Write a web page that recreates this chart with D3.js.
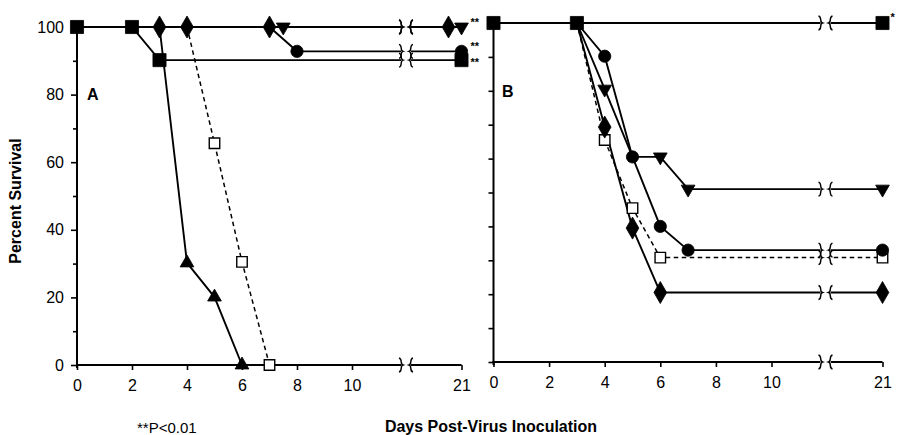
<!DOCTYPE html>
<html><head><meta charset="utf-8">
<script src="https://cdn.jsdelivr.net/npm/d3@7"></script>
<style>
body{margin:0;background:#fff}
svg{display:block}
text{font-family:"Liberation Sans",Arial,Helvetica,sans-serif;fill:#000}
</style>
</head><body>
<svg id="chart" width="898" height="435"></svg>
<script>
// ---------- DATA ----------
const xTickValues = [0, 2, 4, 6, 8, 10, 21];
const yTickValues = [0, 10, 20, 30, 40, 50, 60, 70, 80, 90, 100];
const yLabelValues = [0, 20, 40, 60, 80, 100];

// Panel A  ([day, percent survival])
const aSquare   = [[0,100],[2,100],[3,90.2],[21,90.2]];
const aSquareMarks = [0,2,3,21];
const aDiamond  = [[0,100],[3,100],[4,100],[7,100],[21,100]];
const aDiamondMarks = [3,4,7,21];
const aTriUp    = [[3,100],[4,30.2],[5,20.1],[6,0]];
const aTriUpMarks = [4,5,6];
const aOpenSq   = [[4,100],[5,65.6],[6,30.5],[7,0]];
const aOpenSqMarks = [5,6,7];
const aTriDown  = [[7.5,100],[21,100]];
const aTriDownMarks = [7.5,21];
const aCircle   = [[7,100],[8,92.8],[21,92.8]];
const aCircleMarks = [8,21];
const aStars = [["**",100],["**",92.8],["**",90.2]];

// Panel B
const bSquare   = [[0,100],[3,100],[21,100]];
const bSquareMarks = [0,3,21];
const bCircle   = [[3,100],[4,90.2],[5,60.5],[6,40],[7,33],[21,33]];
const bCircleMarks = [4,5,6,7,21];
const bTriDown  = [[3,100],[4,80.5],[5,60.5],[6,60.5],[7,51],[21,51]];
const bTriDownMarks = [4,6,7,21];
const bDiamond  = [[3,100],[4,69.3],[5,39.5],[6,20.5],[21,20.5]];
const bDiamondMarks = [4,5,6,21];
const bOpenSq   = [[3,100],[4,65.5],[5,45.4],[6,30.8],[21,30.8]];
const bOpenSqMarks = [4,5,6,21];
const bStars = [["*",100]];

// ---------- STYLE / LAYOUT ----------
const svg = d3.select("#chart");
const FONT = 16;

const symStyle = {
  square:  {type: d3.symbolSquare,   size: 172, fill: "#000", rot: 0},
  circle:  {type: d3.symbolCircle,   size: 118, fill: "#000", rot: 0},
  diamond: {type: d3.symbolDiamond,  size: 140, fill: "#000", rot: 0},
  triUp:   {type: d3.symbolTriangle, size: 82,  fill: "#000", rot: 0},
  triDown: {type: d3.symbolTriangle, size: 82,  fill: "#000", rot: 180},
  openSq:  {type: d3.symbolSquare,   size: 110, fill: "#fff", rot: 0, dashed: true}
};
const drawOrder = ["openSq","triUp","triDown","circle","square","diamond"];

const panels = [
  {
    name: "A", xr: [77, 352, 461.5], yr: [365, 27], label: [87, 100],
    majorTick: 6, showYLabels: true, starDy: [-1, -1, 6], endShift: {diamond: -13},
    series: {
      square:  {pts: aSquare,  marks: aSquareMarks},
      diamond: {pts: aDiamond, marks: aDiamondMarks},
      triUp:   {pts: aTriUp,   marks: aTriUpMarks},
      openSq:  {pts: aOpenSq,  marks: aOpenSqMarks},
      triDown: {pts: aTriDown, marks: aTriDownMarks},
      circle:  {pts: aCircle,  marks: aCircleMarks}
    },
    stars: aStars, starDx: 9
  },
  {
    name: "B", xr: [493.5, 771.5, 882.5], yr: [362, 23], label: [502, 97],
    majorTick: 5, showYLabels: false, starDy: [-2], endShift: {},
    series: {
      square:  {pts: bSquare,  marks: bSquareMarks},
      circle:  {pts: bCircle,  marks: bCircleMarks},
      triDown: {pts: bTriDown, marks: bTriDownMarks},
      diamond: {pts: bDiamond, marks: bDiamondMarks},
      openSq:  {pts: bOpenSq,  marks: bOpenSqMarks}
    },
    stars: bStars, starDx: 8
  }
];

function bracePath(x, y, dir) {
  // dir = 1 -> "}" ; dir = -1 -> "{"
  const d = dir;
  return `M${x - d*2},${y-7} C${x + d*2},${y-6} ${x - d*1.5},${y-1} ${x + d*2},${y} ` +
         `C${x - d*1.5},${y+1} ${x + d*2},${y+6} ${x - d*2},${y+7}`;
}

panels.forEach(p => {
  const g = svg.append("g");
  const x = d3.scaleLinear().domain([0, 10, 21]).range(p.xr);
  const y = d3.scaleLinear().domain([0, 100]).range(p.yr);
  const bx = x(10) + 54;   // axis break location

  // ---- y axis ----
  const yAxis = d3.axisLeft(y).tickValues(yTickValues)
    .tickSize(p.majorTick).tickSizeOuter(0).tickPadding(7)
    .tickFormat(d => (p.showYLabels && yLabelValues.includes(d)) ? d : "");
  const ya = g.append("g").attr("transform", `translate(${x(0)},0)`).call(yAxis);
  ya.select(".domain").attr("stroke-width", 2).attr("d", `M0,${y(0)+3}V${y(100)}`);
  ya.selectAll(".tick line").attr("stroke-width", 1.6)
    .attr("x2", d => (p.showYLabels && !yLabelValues.includes(d)) ? -4 : -p.majorTick);
  ya.selectAll("text").attr("font-size", FONT);

  // ---- x axis ----
  const xAxis = d3.axisBottom(x).tickValues(xTickValues)
    .tickSize(5).tickSizeOuter(0).tickPadding(10);
  const xa = g.append("g").attr("transform", `translate(0,${y(0)})`).call(xAxis);
  xa.select(".domain").remove();
  xa.selectAll(".tick line").attr("stroke-width", 1.6);
  xa.selectAll("text").attr("font-size", FONT);
  g.append("path").attr("fill","none").attr("stroke","#000").attr("stroke-width",2)
    .attr("d", `M${x(0)-1},${y(0)}H${bx-5}M${bx+5},${y(0)}H${x(21)}`);

  // ---- lines ----
  const line = d3.line().x(d => x(d[0])).y(d => y(d[1]));
  Object.entries(p.series).forEach(([k, s]) => {
    g.append("path").attr("d", line(s.pts)).attr("fill", "none")
      .attr("stroke", "#000")
      .attr("stroke-width", symStyle[k].dashed ? 1.5 : 1.9)
      .attr("stroke-dasharray", symStyle[k].dashed ? "4.5,3.5" : null);
  });

  // ---- break mask + braces ----
  g.append("rect").attr("x", bx - 5).attr("width", 10)
    .attr("y", y(100) - 8).attr("height", y(0) - y(100) + 16).attr("fill", "#fff");
  const breakYs = [0];
  Object.values(p.series).forEach(s => {
    const last = s.pts[s.pts.length - 1];
    if (last[0] === 21) breakYs.push(last[1]);
  });
  breakYs.forEach(v => {
    [[bx - 5, 1], [bx + 5, -1]].forEach(([bxx, dir]) => {
      g.append("path").attr("d", bracePath(bxx, y(v), dir))
        .attr("fill", "none").attr("stroke", "#000").attr("stroke-width", 1.4);
    });
  });

  // ---- markers ----
  drawOrder.forEach(k => {
    const s = p.series[k];
    if (!s) return;
    const st = symStyle[k];
    const sym = d3.symbol().type(st.type).size(st.size);
    s.pts.filter(d => s.marks.includes(d[0])).forEach(d => {
      const shift = (d[0] === 21 && p.endShift[k]) ? p.endShift[k] : 0;
      g.append("path").attr("d", sym())
        .attr("transform", `translate(${x(d[0]) + shift},${y(d[1])}) rotate(${st.rot})`)
        .attr("fill", st.fill).attr("stroke", "#000")
        .attr("stroke-width", st.fill === "#fff" ? 1.4 : 0.8);
    });
  });

  // ---- significance stars ----
  p.stars.forEach((s, i) => {
    g.append("text").attr("x", x(21) + p.starDx).attr("y", y(s[1]) + p.starDy[i])
      .attr("font-size", 11).attr("font-weight", "bold").text(s[0]);
  });

  // ---- panel letter ----
  g.append("text").attr("x", p.label[0]).attr("y", p.label[1])
    .attr("font-size", 16).attr("font-weight", "bold").text(p.name);
});

// ---- titles ----
svg.append("text").attr("transform", "translate(21,201) rotate(-90)")
  .attr("text-anchor", "middle").attr("font-size", 16).attr("font-weight", "bold")
  .text("Percent Survival");
svg.append("text").attr("x", 491).attr("y", 432).attr("text-anchor", "middle")
  .attr("font-size", 16).attr("font-weight", "bold").text("Days Post-Virus Inoculation");
svg.append("text").attr("x", 137).attr("y", 433).attr("font-size", 15).text("**P<0.01");
</script>
</body></html>
